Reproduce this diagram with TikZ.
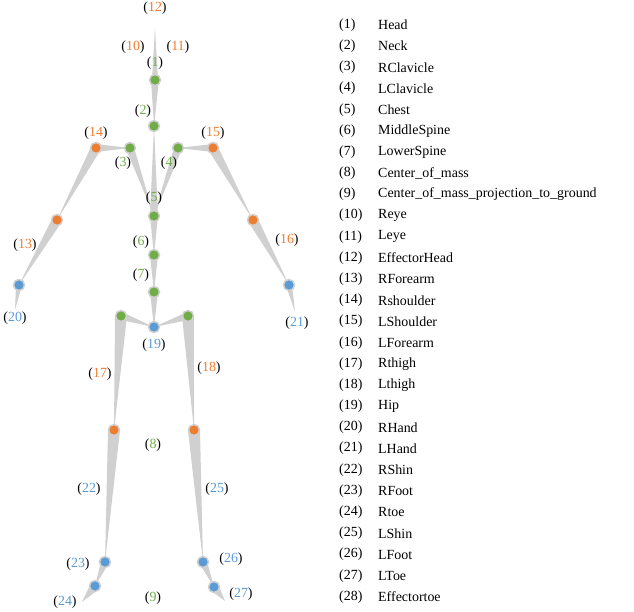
\documentclass[tikz,border=0pt]{standalone}
\usepackage{fontspec}
\setmainfont{Liberation Serif}
\usetikzlibrary{calc}
\definecolor{cg}{HTML}{70AD47}
\definecolor{co}{HTML}{ED7D31}
\definecolor{cb}{HTML}{5B9BD5}
\definecolor{bone}{HTML}{D0D0D0}
\tikzset{
 jt/.style={circle,fill=#1,draw=bone,line width=1.5pt,minimum size=11bp,inner sep=0pt},
 lb/.style={font=\fontsize{14}{14}\selectfont,inner sep=0pt},
 lg/.style={font=\fontsize{14}{14}\selectfont,inner sep=0pt,anchor=west}
}
\newcommand{\bone}[3]{\fill[bone] ($(#1)!#3!90:(#2)$) -- ($(#1)!#3!-90:(#2)$) -- (#2) -- cycle;}
\newcommand{\lbl}[4]{\node[lb] (#4) at (#1) {(\textcolor{#2}{#3})};}
\begin{document}
\begin{tikzpicture}[x=1bp,y=-1bp]
\useasboundingbox (0,0) rectangle (634,612);
% joints
\coordinate (eh) at (155,28);
\coordinate (j1) at (155,80);
\coordinate (j2) at (154,126);
\coordinate (j3) at (130,148);
\coordinate (j4) at (178,148);
\coordinate (j5) at (154,216);
\coordinate (j6) at (154,255);
\coordinate (j7) at (154,292);
\coordinate (j19) at (154,327);
\coordinate (rt) at (121,316);
\coordinate (lt) at (188,316);
\coordinate (rk) at (114,430);
\coordinate (lk) at (194,430);
\coordinate (rf) at (105,562);
\coordinate (lf) at (203,562);
\coordinate (rtoe) at (95,586);
\coordinate (ltoe) at (214,587);
\coordinate (rte) at (82,602);
\coordinate (lte) at (225,601);
\coordinate (rs) at (96,148);
\coordinate (ls) at (213,148);
\coordinate (re) at (57,220);
\coordinate (le) at (253,220);
\coordinate (rh) at (19,285);
\coordinate (lh) at (289,285);
\coordinate (rhe) at (15,310);
\coordinate (lhe) at (295,312);
% bones
\bone{j1}{eh}{3bp}
\bone{j1}{j2}{4bp}
\bone{j5}{j2}{4bp}
\bone{j3}{j5}{4bp}
\bone{j4}{j5}{4bp}
\bone{rs}{j3}{4bp}
\bone{ls}{j4}{4bp}
\bone{rs}{re}{5bp}
\bone{ls}{le}{5bp}
\bone{re}{rh}{5bp}
\bone{le}{lh}{5bp}
\bone{rh}{rhe}{3bp}
\bone{lh}{lhe}{3bp}
\bone{j5}{j6}{4bp}
\bone{j6}{j7}{4bp}
\bone{j7}{j19}{4bp}
\bone{rt}{j19}{4bp}
\bone{lt}{j19}{4bp}
\bone{rt}{rk}{6bp}
\bone{lt}{lk}{6bp}
\bone{rk}{rf}{6bp}
\bone{lk}{lf}{6bp}
\bone{rf}{rtoe}{4bp}
\bone{lf}{ltoe}{4bp}
\bone{rtoe}{rte}{5bp}
\bone{ltoe}{lte}{5bp}
% joint markers
\foreach \p/\c in {j1/cg,j2/cg,j3/cg,j4/cg,j5/cg,j6/cg,j7/cg,rt/cg,lt/cg,
  rs/co,ls/co,re/co,le/co,rk/co,lk/co,
  j19/cb,rh/cb,lh/cb,rf/cb,lf/cb,rtoe/cb,ltoe/cb}
  \node[jt=\c] (n\p) at (\p) {};
% labels
\lbl{155,8}{co}{12}{l12}
\lbl{133,47}{co}{10}{l10}
\lbl{178,47}{co}{11}{l11}
\lbl{155,63}{cg}{1}{l1}
\lbl{143,111}{cg}{2}{l2}
\lbl{96,133}{co}{14}{l14}
\lbl{213,133}{co}{15}{l15}
\lbl{123,163}{cg}{3}{l3}
\lbl{169,163}{cg}{4}{l4}
\lbl{154,198}{cg}{5}{l5}
\lbl{141,242}{cg}{6}{l6}
\lbl{141,275}{cg}{7}{l7}
\lbl{25,245}{co}{13}{l13}
\lbl{287,240}{co}{16}{l16}
\lbl{15,318}{cb}{20}{l20}
\lbl{297,323}{cb}{21}{l21}
\lbl{154,345}{cb}{19}{l19}
\lbl{100,374}{co}{17}{l17}
\lbl{209,368}{co}{18}{l18}
\lbl{153,445}{cg}{8}{l8}
\lbl{89,489}{cb}{22}{l22}
\lbl{217,489}{cb}{25}{l25}
\lbl{78,564}{cb}{23}{l23}
\lbl{231,559}{cb}{26}{l26}
\lbl{65,602}{cb}{24}{l24}
\lbl{241,594}{cb}{27}{l27}
\lbl{153,598}{cg}{9}{l9}
% legend
\foreach \n/\t [count=\i] in {1/Head,2/Neck,3/RClavicle,4/LClavicle,5/Chest,6/MiddleSpine,7/LowerSpine,8/Center\_of\_mass,9/Center\_of\_mass\_projection\_to\_ground,10/Reye,11/Leye,12/EffectorHead,13/RForearm,14/Rshoulder,15/LShoulder,16/LForearm,17/Rthigh,18/Lthigh,19/Hip,20/RHand,21/LHand,22/RShin,23/RFoot,24/Rtoe,25/LShin,26/LFoot,27/LToe,28/Effectortoe}{
  \node[lg] (k\n) at (339,{25+(\i-1)*21.18}) {(\n)};
  \node[lg] (t\n) at (378,{25+(\i-1)*21.18}) {\t};
}
\end{tikzpicture}
\end{document}
